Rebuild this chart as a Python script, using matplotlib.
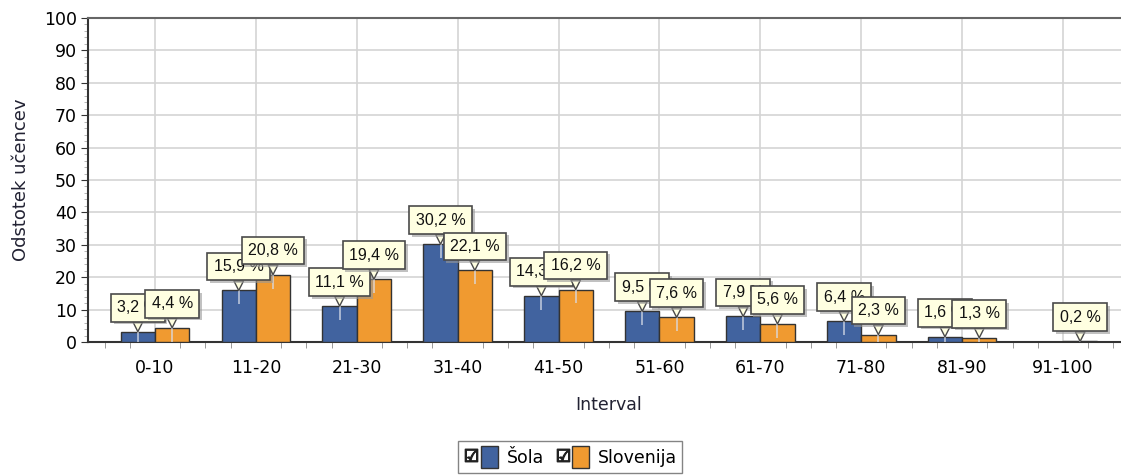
import matplotlib
matplotlib.use("Agg")
import matplotlib.pyplot as plt
import matplotlib.patheffects as pe
from matplotlib.lines import Line2D
from matplotlib.patches import Patch
from matplotlib.legend_handler import HandlerTuple
from matplotlib.ticker import MultipleLocator
import numpy as np

categories = ["0-10", "11-20", "21-30", "31-40", "41-50",
              "51-60", "61-70", "71-80", "81-90", "91-100"]
sola = [3.2, 15.9, 11.1, 30.2, 14.3, 9.5, 7.9, 6.4, 1.6, 0.0]
slovenija = [4.4, 20.8, 19.4, 22.1, 16.2, 7.6, 5.6, 2.3, 1.3, 0.2]
series_names = ["Šola", "Slovenija"]
colors = ["#41639f", "#f09a30"]
y_ticks = list(range(0, 101, 10))

plt.rcParams["font.family"] = ["DejaVu Sans"]

W, H = 1121, 476
fig = plt.figure(figsize=(W / 100, H / 100), dpi=100)
ax = fig.add_axes([88 / W, (H - 342) / H, (1130 - 88) / W, (342 - 18) / H])

x = np.arange(len(categories))
w = 0.34


def callout(xc, v):
    ann = ax.annotate(
        f"{v:.1f} %".replace(".", ","),
        xy=(xc, v), xytext=(0, 24), textcoords="offset pixels",
        ha="center", va="center", fontsize=11.5, color="#111111", zorder=5,
        family=["Liberation Sans", "DejaVu Sans"],
        bbox=dict(boxstyle="square,pad=0.4", fc="#ffffe1", ec="#4a4a4a", lw=1.2),
        arrowprops=dict(arrowstyle="wedge,tail_width=0.6,shrink_factor=0.5",
                        fc="#ffffe1", ec="#4a4a4a", lw=1.0, shrinkA=0, shrinkB=0),
    )
    ann.get_bbox_patch().set_path_effects(
        [pe.SimplePatchShadow(offset=(2, -2), shadow_rgbFace="#999999", alpha=0.6), pe.Normal()])


for k, (vals, col) in enumerate([(sola, colors[0]), (slovenija, colors[1])]):
    xs = x + (k - 0.5) * w
    ax.bar(xs, vals, width=w, color=col, edgecolor="#333333", linewidth=1.0, zorder=3)
    for xi, v in zip(xs, vals):
        if v > 0:
            ax.vlines(xi, max(v - 4.3, 0), v, color="#d8dde8", lw=1.2, alpha=0.8, zorder=4)

for i in range(len(categories)):
    for k, vals in enumerate([sola, slovenija]):
        if vals[i] > 0:
            callout(x[i] + (k - 0.5) * w, vals[i])

ax.set_xlim(-0.664, len(categories) - 1 + 0.664)
ax.set_ylim(0, 100)
ax.set_xticks(x)
ax.set_xticklabels(categories, fontsize=12.5)
ax.set_yticks(y_ticks)
ax.tick_params(axis="y", labelsize=12.5, length=5, color="#333333", pad=3)
ax.tick_params(axis="x", length=0, pad=12)
ax.xaxis.set_minor_locator(MultipleLocator(0.25))
ax.yaxis.set_minor_locator(MultipleLocator(2))
ax.tick_params(which="minor", axis="x", length=4, color="#888888")
ax.tick_params(which="minor", axis="y", length=3, color="#aaaaaa")
ax.grid(True, which="major", color="#d4d4d4", lw=1.2, zorder=0)
ax.set_axisbelow(True)

for s in ["left", "bottom"]:
    ax.spines[s].set_color("#333333")
    ax.spines[s].set_linewidth(1.5)
ax.spines["top"].set_color("#666666")
ax.spines["top"].set_linewidth(1.5)
ax.spines["right"].set_visible(False)

ax.set_ylabel("Odstotek učencev", fontsize=13, color="#222233", labelpad=10)
ax.set_xlabel("Interval", fontsize=12.5, color="#222233", labelpad=14)

handles = []
for col in colors:
    check = Line2D([], [], marker="$\u2611$", color="#222222", markersize=9, linestyle="none")
    patch = Patch(fc=col, ec="#333333", lw=1.0)
    handles.append((check, patch))

fig.legend(handles, series_names, loc="center", bbox_to_anchor=(570 / W, (H - 457) / H),
           ncol=2, fontsize=12.5, frameon=True, fancybox=False, edgecolor="#666666",
           handler_map={tuple: HandlerTuple(ndivide=None, pad=0.1)},
           handlelength=2.0, handleheight=1.5, handletextpad=0.5, columnspacing=0.6,
           borderpad=0.3)

fig.savefig("out.png", dpi=100)
